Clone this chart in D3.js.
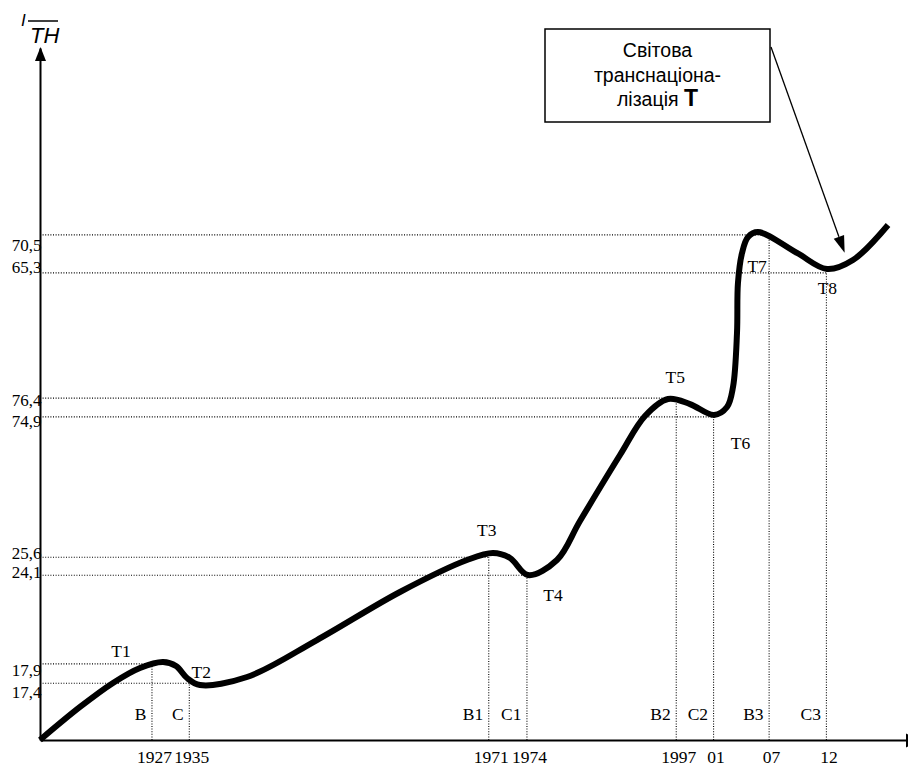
<!DOCTYPE html>
<html>
<head>
<meta charset="utf-8">
<script src="https://cdn.jsdelivr.net/npm/d3@7"></script>
<style>
  html, body { margin: 0; padding: 0; background: #fff; }
  svg { display: block; }
</style>
</head>
<body>
<svg id="chart" width="908" height="767"></svg>
<script>
// ---- data (schematic units: time axis 0..100, level axis 0..100) ----
const yearLabels  = ["1927", "1935", "1971", "1974", "1997", "01", "07", "12"];
const yearPos     = [12.9, 17.2, 51.7, 56.1, 73.3, 77.6, 84.0, 90.6];
const phaseLabels = ["B", "C", "B1", "C1", "B2", "C2", "B3", "C3"];
const levelLabels = ["70,5", "65,3", "76,4", "74,9", "25,6", "24,1", "17,9", "17,4"];
const levelPos    = [73.0, 67.5, 49.4, 46.7, 26.4, 23.8, 11.0, 8.2];
const levelYear   = [6, 7, 4, 5, 2, 3, 0, 1];          // which year line each level meets
const turnLabels  = ["T1", "T2", "T3", "T4", "T5", "T6", "T7", "T8"];
const turnYear    = [0, 1, 2, 3, 4, 5, 6, 7];
const turnLevel   = [6, 7, 4, 5, 2, 3, 0, 1];

const curveT = [0, 4.61, 8.41, 11.52, 14.17, 15.67, 16.94, 18.43, 23.85, 31.91, 41.47, 49.19, 52.19,
                54.15, 56.22, 59.56, 62.21, 66.82, 69.70, 72.35, 74.88, 77.65, 79.15, 79.84, 80.30,
                80.41, 80.88, 81.57, 82.72, 87.21, 90.67, 93.66, 97.70];
const curveL = [0, 4.77, 8.24, 10.40, 11.27, 10.69, 8.96, 7.95, 9.10, 14.45, 21.39, 26.01, 27.02,
                26.30, 23.84, 26.01, 31.65, 41.18, 46.82, 49.28, 48.55, 46.97, 48.12, 51.01, 58.82,
                66.04, 70.38, 72.69, 73.41, 70.38, 68.06, 69.36, 74.42];

const calloutLines = ["Світова", "транснаціона-", "лізація "];
const calloutBold = "T";
const calloutTarget = [92.7, 70.4];

// ---- layout ----
const turnOffset = [[-31, -13], [12, -11], [-2, -27], [26, 20], [-1, -21], [27, 26], [-12, 31], [1, 15]];
const levelLabelDy = [16, 0, 7, 10, 1, 2, 12, 14];

const svg = d3.select("#chart");
const x = d3.scaleLinear().domain([0, 100]).range([40, 908]);
const y = d3.scaleLinear().domain([0, 100]).range([740, 48]);
const serif = "'Liberation Serif', 'Times New Roman', serif";
const sans = "'Liberation Sans', Arial, sans-serif";

// dotted guide lines
const guides = svg.append("g").attr("stroke", "#000").attr("stroke-width", 1.1)
  .attr("stroke-dasharray", "1,1.6").attr("fill", "none");
levelPos.forEach((v, i) => {
  guides.append("line").attr("x1", x(0)).attr("x2", x(yearPos[levelYear[i]]))
    .attr("y1", y(v)).attr("y2", y(v));
});
yearPos.forEach((u, i) => {
  const li = turnLevel[i];
  guides.append("line").attr("x1", x(u)).attr("x2", x(u))
    .attr("y1", y(0)).attr("y2", y(levelPos[li]));
});

// axes
const xAxis = svg.append("g").attr("transform", `translate(0,${y(0)})`)
  .call(d3.axisBottom(x).tickValues(yearPos).tickFormat((d, i) => yearLabels[i])
    .tickSize(0).tickPadding(11));
xAxis.select(".domain").attr("stroke-width", 2);
xAxis.selectAll("text").attr("font-family", serif).attr("font-size", 17.5).attr("dx", 2).attr("fill", "#000");

const yAxis = svg.append("g").attr("transform", `translate(${x(0)},0)`)
  .call(d3.axisLeft(y).tickValues(levelPos).tickFormat((d, i) => levelLabels[i])
    .tickSize(0).tickPadding(-1.5));
yAxis.select(".domain").attr("stroke-width", 2);
yAxis.selectAll("text").attr("font-family", serif).attr("font-size", 17)
  .attr("dy", (d, i) => levelLabelDy[i]).attr("fill", "#000");

// axis arrowheads
svg.append("path").attr("d", `M${x(0) + 0.5},${y(100) - 1} L${x(0) - 5},${y(100) + 13} L${x(0) + 6},${y(100) + 13} Z`).attr("fill", "#000");
svg.append("path").attr("d", `M${x(100) - 2},${y(0) - 6.5} L${x(100) + 12},${y(0) + 0.5} L${x(100) - 2},${y(0) + 7.5} Z`).attr("fill", "#000");

// y axis title  I / TH
svg.append("text").attr("x", 21).attr("y", 26).attr("font-family", sans).attr("font-style", "italic")
  .attr("font-size", 17).text("I");
svg.append("line").attr("x1", 28).attr("x2", 58).attr("y1", 21).attr("y2", 21).attr("stroke", "#000").attr("stroke-width", 1.5);
svg.append("text").attr("x", 30).attr("y", 43).attr("font-family", sans).attr("font-style", "italic")
  .attr("font-size", 22).text("TH");

// phase letters
svg.append("g").selectAll("text").data(phaseLabels).join("text")
  .attr("x", (d, i) => x(yearPos[i]) - 5.5).attr("y", y(0) - 20)
  .attr("text-anchor", "end").attr("font-family", serif).attr("font-size", 17.5).text(d => d);

// curve
const line = d3.line().x(d => x(d[0])).y(d => y(d[1])).curve(d3.curveCatmullRom.alpha(0.5));
svg.append("path").datum(curveT.map((t, i) => [t, curveL[i]]))
  .attr("d", line).attr("fill", "none").attr("stroke", "#000").attr("stroke-width", 6)
  .attr("stroke-linecap", "butt").attr("stroke-linejoin", "round");

// turning point labels
svg.append("g").selectAll("text").data(turnLabels).join("text")
  .attr("x", (d, i) => x(yearPos[turnYear[i]]) + turnOffset[i][0])
  .attr("y", (d, i) => y(levelPos[turnLevel[i]]) + turnOffset[i][1])
  .attr("dy", "0.35em").attr("text-anchor", "middle")
  .attr("font-family", serif).attr("font-size", 17.5).text(d => d);

// callout box
const box = { x: 545, y: 29, w: 225, h: 93 };
svg.append("rect").attr("x", box.x).attr("y", box.y).attr("width", box.w).attr("height", box.h)
  .attr("fill", "#fff").attr("stroke", "#000").attr("stroke-width", 1.5);
const cx = box.x + box.w / 2;
calloutLines.forEach((s, i) => {
  const t = svg.append("text").attr("x", cx).attr("y", 57 + i * 24.5).attr("text-anchor", "middle")
    .attr("font-family", sans).attr("font-size", 19.5).text(s);
  if (i === calloutLines.length - 1) {
    t.append("tspan").attr("font-weight", "bold").attr("font-size", 23).text(calloutBold);
  }
});

// callout arrow
const sx = box.x + box.w + 1, sy = 47;
const tx = x(calloutTarget[0]), ty = y(calloutTarget[1]);
const len = Math.hypot(tx - sx, ty - sy), ux = (tx - sx) / len, uy = (ty - sy) / len;
const hl = 17, hw = 5.5;
const bx = tx - ux * hl, by = ty - uy * hl;
svg.append("line").attr("x1", sx).attr("y1", sy).attr("x2", bx).attr("y2", by)
  .attr("stroke", "#000").attr("stroke-width", 1.3);
svg.append("path").attr("d", `M${tx},${ty} L${bx - uy * hw},${by + ux * hw} L${bx + uy * hw},${by - ux * hw} Z`)
  .attr("fill", "#000");
</script>
</body>
</html>
